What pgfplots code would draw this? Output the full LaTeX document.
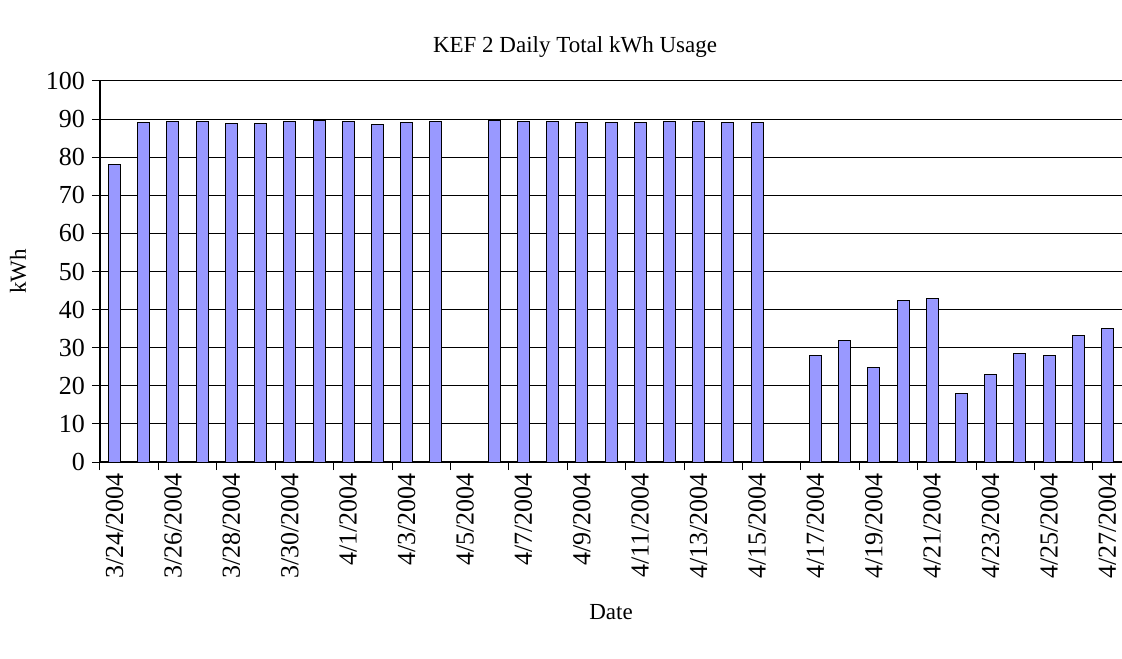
\documentclass[border=0pt]{standalone}
\usepackage{fontspec}
\setmainfont{Liberation Serif}
\usepackage{pgfplots}
\pgfplotsset{compat=1.18}
\definecolor{barblue}{HTML}{9999FF}

\begin{document}
\begin{tikzpicture}[font=\fontsize{11.5}{13}\selectfont]
\begin{axis}[
    at={(0,0)}, anchor=south west,
    scale only axis,
    width=511pt, height=190.5pt,
    xmin=-0.5, xmax=34.5,
    ymin=0, ymax=100,
    ytick={0,10,...,100},
    ymajorgrids,
    grid style={black, line width=0.5pt},
    axis x line*=bottom, axis y line*=left,
    axis line style={black, line width=0.6pt, -},
    tick align=outside,
    major tick length=4pt,
    minor tick length=4pt,
    tick label style={font=\fontsize{13}{15}\selectfont},
    xtick={0,2,...,34},
    xticklabels={3/24/2004,3/26/2004,3/28/2004,3/30/2004,4/1/2004,4/3/2004,
        4/5/2004,4/7/2004,4/9/2004,4/11/2004,4/13/2004,4/15/2004,4/17/2004,
        4/19/2004,4/21/2004,4/23/2004,4/25/2004,4/27/2004},
    x tick label style={rotate=90, anchor=east},
    xticklabel shift=-2pt,
    major x tick style={draw=none},
    minor xtick={-0.5,1.5,...,33.5},
    minor x tick style={black, line width=0.5pt},
    y tick style={black, line width=0.5pt},
    /pgf/number format/assume math mode=true,
    ybar, bar width=6pt,
]
\addplot[fill=barblue, draw=black, line width=0.5pt] coordinates {
    (0,78.1) (1,89.2) (2,89.5) (3,89.3) (4,88.8) (5,88.9) (6,89.5) (7,89.7)
    (8,89.4) (9,88.7) (10,89.2) (11,89.4) (13,89.7) (14,89.4) (15,89.4)
    (16,89.2) (17,89.2) (18,89.1) (19,89.4) (20,89.5) (21,89.2) (22,89.1)
    (24,28.0) (25,31.9) (26,24.9) (27,42.5) (28,42.9) (29,18.0) (30,22.9)
    (31,28.4) (32,28.0) (33,33.3) (34,35.0)
};
\end{axis}
\node at (237.5pt,207.5pt) {KEF 2 Daily Total kWh Usage};
\node at (255.5pt,-75pt) {Date};
\node[rotate=90] at (-41pt,95.25pt) {kWh};
\pgfresetboundingbox
\path (-50pt,-98pt) rectangle (511pt,231pt);
\end{tikzpicture}
\end{document}
